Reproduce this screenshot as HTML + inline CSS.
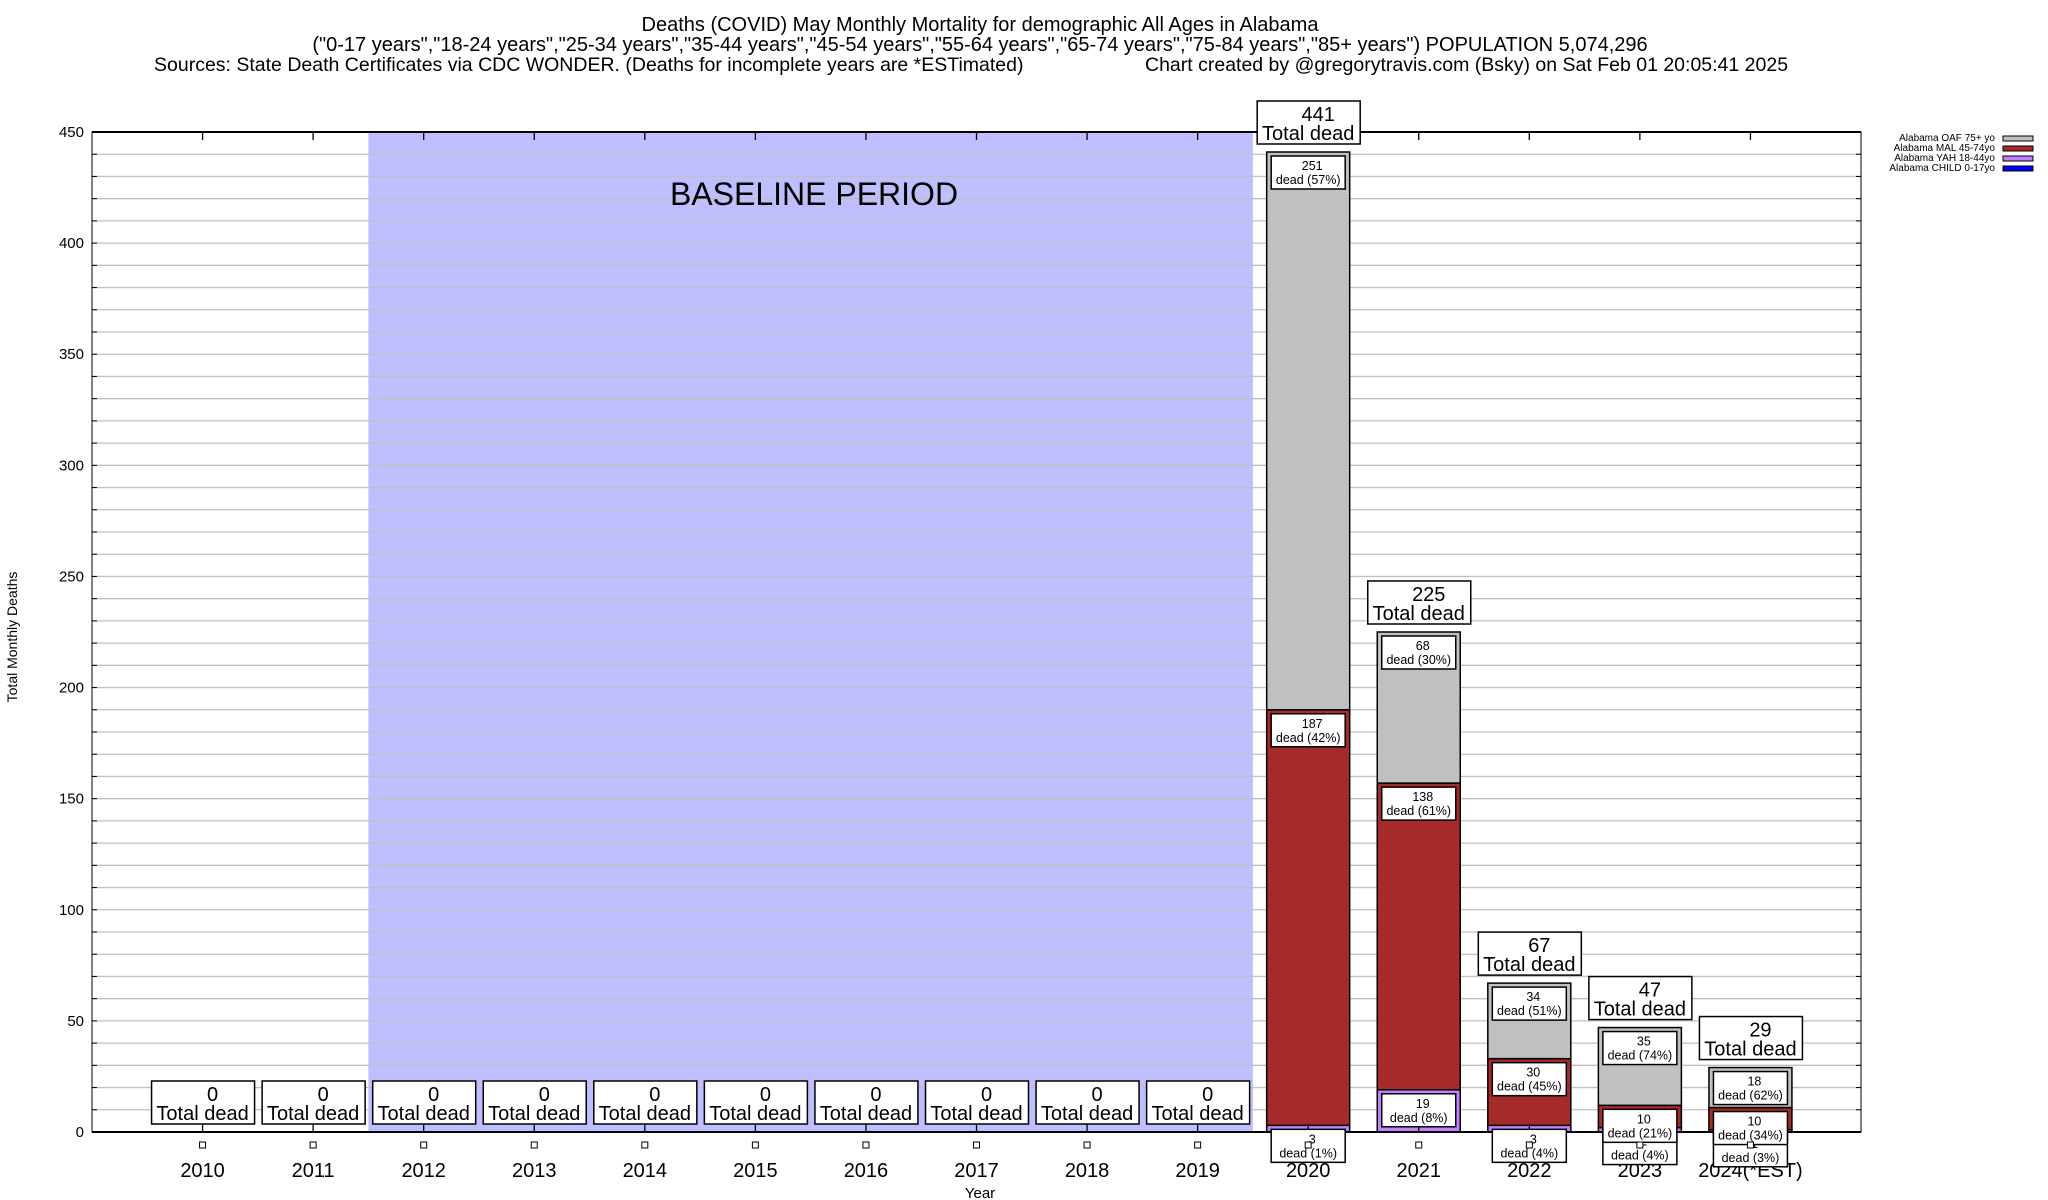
<!DOCTYPE html>
<html><head><meta charset="utf-8"><style>
html,body{margin:0;padding:0;background:#fff;}
svg{display:block;font-family:"Liberation Sans",sans-serif;}
</style></head><body>
<svg id="chart" width="2048" height="1200" viewBox="0 0 2048 1200" xmlns="http://www.w3.org/2000/svg">
<g fill="#000">
<text x="980" y="31" font-size="20" text-anchor="middle">Deaths (COVID) May Monthly Mortality for demographic All Ages in Alabama</text>
<text x="980" y="51" font-size="20" text-anchor="middle">("0-17 years","18-24 years","25-34 years","35-44 years","45-54 years","55-64 years","65-74 years","75-84 years","85+ years") POPULATION 5,074,296</text>
<text x="154" y="71" font-size="19.5">Sources: State Death Certificates via CDC WONDER. (Deaths for incomplete years are *ESTimated)</text>
<text x="1145" y="71" font-size="19.5">Chart created by @gregorytravis.com (Bsky) on Sat Feb 01 20:05:41 2025</text>
</g>
<g id="grid"></g>
<g id="bars"></g>
<g id="axes"></g>
<g id="labels"></g>
<g font-size="10">
<text x="1995" y="141" text-anchor="end">Alabama OAF 75+ yo</text>
<rect x="2003" y="136" width="30" height="5" fill="#c0c0c0" stroke="#000"/>
<text x="1995" y="151" text-anchor="end">Alabama MAL 45-74yo</text>
<rect x="2003" y="146" width="30" height="5" fill="#a52a2a" stroke="#000"/>
<text x="1995" y="161" text-anchor="end">Alabama YAH 18-44yo</text>
<rect x="2003" y="156" width="30" height="5" fill="#c080ff" stroke="#000"/>
<text x="1995" y="171" text-anchor="end">Alabama CHILD 0-17yo</text>
<rect x="2003" y="166" width="30" height="5" fill="#0000ff" stroke="#000"/>
</g>
<text x="17" y="637" font-size="14" text-anchor="middle" transform="rotate(-90 17 637)">Total Monthly Deaths</text>
<text x="980" y="1198" font-size="15" text-anchor="middle">Year</text>
</svg>
<script>
const categories = ["2010","2011","2012","2013","2014","2015","2016","2017","2018","2019","2020","2021","2022","2023","2024(*EST)"];
const childValues = [0,0,0,0,0,0,0,0,0,0,0,0,0,0,0];
const yahValues   = [0,0,0,0,0,0,0,0,0,0,3,19,3,2,1];
const malValues   = [0,0,0,0,0,0,0,0,0,0,187,138,30,10,10];
const oafValues   = [0,0,0,0,0,0,0,0,0,0,251,68,34,35,18];
const yTicks = [0,50,100,150,200,250,300,350,400,450];
const baselineStart = 2; const baselineEnd = 9;

const NS="http://www.w3.org/2000/svg";
const L=92,R=1861,T=132,B=1132,YMAX=450;
const step=(R-L)/(categories.length+1);
function xc(i){return L+step*(i+1);}
function y(v){return B-(v/YMAX)*(B-T);}
function mk(tag,attrs,parent){const e=document.createElementNS(NS,tag);for(const k in attrs)e.setAttribute(k,attrs[k]);parent.appendChild(e);return e;}
const grid=document.getElementById('grid'),bars=document.getElementById('bars'),axes=document.getElementById('axes'),labels=document.getElementById('labels');

const bs=mk('rect',{x:xc(baselineStart)-step/2,y:T,width:step*(baselineEnd-baselineStart+1),height:B-T,fill:'#bfbfff'},grid);


for(let v=10;v<YMAX;v+=10){
  const g=mk('line',{x1:L,x2:R,y1:y(v),y2:y(v),stroke:'#c0c0c0','stroke-width':1.3},grid);
  
  
}
const bt=mk('text',{x:814,y:205,'font-size':32,'text-anchor':'middle'},grid);
bt.textContent='BASELINE PERIOD';



const series=[[childValues,'#0000ff','child'],[yahValues,'#c080ff','yah'],[malValues,'#a52a2a','mal'],[oafValues,'#c0c0c0','oaf']];
const bw=83;
categories.forEach((c,i)=>{
  const total=childValues[i]+yahValues[i]+malValues[i]+oafValues[i];
  let base=0;
  series.forEach(([arr,col,nm])=>{
    const v=arr[i];
    if(v>0){
      const r=mk('rect',{x:xc(i)-bw/2,y:y(base+v),width:bw,height:y(base)-y(base+v),fill:col,stroke:'#000','stroke-width':1.5},bars);
      
      
      const top=y(base+v)+4;
      const bx=mk('rect',{x:xc(i)-37,y:top,width:74,height:33,fill:'#fff',stroke:'#000','stroke-width':1.5},labels);
      
      
      const t1=mk('text',{x:xc(i)+4,y:top+14,'font-size':12.5,'text-anchor':'middle'},labels);
      t1.textContent=v;
      
      
      const t2=mk('text',{x:xc(i),y:top+28,'font-size':12.5,'text-anchor':'middle'},labels);
      t2.textContent='dead ('+Math.round(v/total*100)+'%)';
      
      
    }
    base+=v;
  });
  const by=y(total)-8-43;
  const tb=mk('rect',{x:xc(i)-51,y:by,width:103,height:43,fill:'#fff',stroke:'#000','stroke-width':1.5},labels);
  
  
  const tt=mk('text',{x:xc(i)+10,y:by+20,'font-size':20,'text-anchor':'middle'},labels);
  tt.textContent=total;
  
  
  const tt2=mk('text',{x:xc(i),y:by+39,'font-size':20,'text-anchor':'middle'},labels);
  tt2.textContent='Total dead';
  
  
  const sq=mk('rect',{x:xc(i)-3,y:1142,width:6,height:6,fill:'#fff',stroke:'#000','stroke-width':1},labels);
  
  
  const xl=mk('text',{x:xc(i),y:1177,'font-size':20,'text-anchor':'middle'},axes);
  xl.textContent=c;
  
  
  const tk=mk('line',{x1:xc(i),x2:xc(i),y1:B,y2:B-8,stroke:'#000','stroke-width':1.3},axes);
  
  
  const tk2=mk('line',{x1:xc(i),x2:xc(i),y1:T,y2:T+8,stroke:'#000','stroke-width':1.3},axes);
  
  
});
const fr=mk('rect',{x:L,y:T,width:R-L,height:B-T,fill:'none',stroke:'#000','stroke-width':1},axes);


const xa=mk('line',{x1:L,x2:R,y1:B,y2:B,stroke:'#000','stroke-width':2},axes);


const ya=mk('line',{x1:L,x2:R,y1:T,y2:T,stroke:'#000','stroke-width':2},axes);


yTicks.forEach(v=>{
  const t=mk('text',{x:84,y:y(v)+5,'font-size':15,'text-anchor':'end'},axes);
  t.textContent=v;
  
  
});
for(let v=10;v<YMAX;v+=10){
  const a=mk('line',{x1:L,x2:L+5,y1:y(v),y2:y(v),stroke:'#000'},axes);
  
  
  const b=mk('line',{x1:R,x2:R-5,y1:y(v),y2:y(v),stroke:'#000'},axes);
  
  
}
</script>
</body></html>
